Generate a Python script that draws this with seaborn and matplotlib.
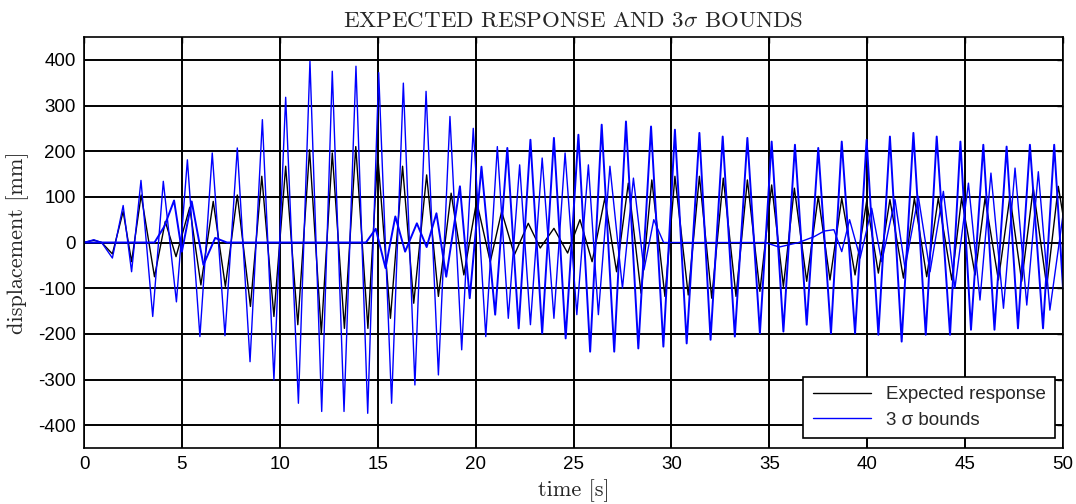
import matplotlib
matplotlib.use("Agg")
import matplotlib.pyplot as plt
import seaborn as sns
import pandas as pd

# Expected response (extrema of the mean displacement, mm)
mean_t = [0, 0.5, 0.9, 1.45, 2.0, 2.43, 2.92, 3.6, 4.15, 4.7, 5.4, 5.97, 6.6, 7.22,
          7.83, 8.5, 9.08, 9.7, 10.3, 10.92, 11.52, 12.12, 12.68, 13.3, 13.88, 14.5,
          15.0, 15.65, 16.27, 16.84, 17.5, 18.1, 18.75, 19.4, 20.05, 20.75, 21.33,
          21.98, 22.69, 23.3, 24.0, 24.7, 25.33, 25.95, 26.6, 27.2, 27.8, 28.45, 29.0,
          29.67, 30.18, 30.86, 31.43, 32.06, 32.65, 33.3, 33.88, 34.52, 35.12, 35.72,
          36.28, 36.91, 37.5, 38.1, 38.7, 39.38, 39.97, 40.57, 41.16, 41.85, 42.41,
          43.04, 43.63, 44.32, 44.82, 45.51, 46.02, 46.7, 47.29, 47.89, 48.48, 49.17,
          49.76, 50.0]
mean_v = [0, 5, 0, -25, 68, -42, 104, -75, 46, -31, 77, -93, 90, -96,
          104, -140, 145, -162, 167, -180, 203, -199, 196, -188, 210, -188,
          192, -166, 167, -133, 148, -118, 108, -71, 90, -42, 68,
          -27, 42, -12, 31, -23, 50, -42, 97, -64, 130, -111, 137,
          -118, 145, -115, 145, -122, 141, -118, 137, -107, 126, -96,
          119, -85, 101, -82, 97, -71, 90, -67, 94, -78, 97,
          -75, 97, -82, 97, -71, 97, -82, 101, -85, 119, -96,
          123, 60]

# First 3-sigma bound
bound_a_t = [0, 0.5, 0.9, 1.45, 2.0, 2.43, 2.91, 3.51, 4.05, 4.72, 5.28, 5.92, 6.55,
             7.2, 7.83, 8.48, 9.11, 9.7, 10.3, 10.95, 11.54, 12.14, 12.68, 13.28,
             13.89, 14.49, 15.05, 15.71, 16.31, 16.9, 17.47, 18.1, 18.69, 19.29,
             19.88, 20.52, 21.11, 21.67, 22.25, 22.8, 23.4, 24.0, 24.57, 25.17,
             25.76, 26.27, 26.86, 27.5, 28.06, 28.6, 29.1, 29.6, 34.8, 35.5, 36.5,
             37.3, 37.8, 38.3, 38.7, 39.1, 39.64, 40.23, 40.74, 41.42, 41.93, 42.61,
             43.21, 43.89, 44.48, 45.17, 45.76, 46.32, 46.96, 47.55, 48.15, 48.74,
             49.33, 50.0]
bound_a_v = [0, 6, 0, -34, 81, -64, 136, -162, 134, -130, 181, -206, 196,
             -204, 207, -261, 269, -301, 318, -352, 397, -370, 375, -370,
             386, -374, 372, -352, 349, -312, 331, -290, 276, -235,
             250, -206, 210, -166, 170, -180, 185, -166, 196, -158,
             170, -158, 167, -100, 141, -60, 50, 0, 0, -10, 0,
             13, 25, 28, -20, 50, -34, 75, -42, 94, -56, 101,
             -64, 112, -100, 130, -126, 152, -144, 163, -137, 155,
             -148, 60]

# Second 3-sigma bound
bound_b_t = [0, 3.6, 4.1, 4.6, 5.0, 5.5, 6.1, 6.7, 7.3, 14.4, 14.9, 15.4, 15.9, 16.4,
             17.0, 17.5, 18.0, 18.5, 19.2, 19.7, 20.3, 21.0, 21.62, 22.2, 22.8, 23.4,
             24.0, 24.6, 25.25, 25.85, 26.44, 27.08, 27.68, 28.31, 28.96, 29.59,
             30.18, 30.78, 31.43, 32.0, 32.62, 33.24, 33.88, 34.52, 35.12, 35.72,
             36.31, 36.91, 37.5, 38.15, 38.7, 39.38, 39.97, 40.57, 41.16, 41.76,
             42.36, 42.99, 43.55, 44.23, 44.76, 45.3, 45.93, 46.5, 47.12, 47.7,
             48.31, 48.98, 49.55, 50.0]
bound_b_v = [0, 0, 35, 92, -20, 90, -49, 10, 0, 0, 30, -56, 57, -20,
             42, -10, 64, -75, 123, -122, 166, -158, 207, -188, 225, -199,
             229, -210, 236, -239, 258, -239, 265, -232, 254, -228,
             247, -221, 240, -213, 232, -206, 229, -199, 221, -195,
             214, -180, 207, -199, 221, -199, 225, -202, 232, -217,
             240, -202, 232, -202, 221, -191, 214, -191, 210, -188,
             214, -188, 214, -100]

x_ticks = list(range(0, 51, 5))
y_ticks = list(range(-400, 401, 100))

sns.set_style("white")
plt.rcParams["font.family"] = ["Liberation Sans", "DejaVu Sans"]
plt.rcParams["mathtext.fontset"] = "cm"
plt.rcParams["axes.unicode_minus"] = False

W, H = 1076, 504
fig = plt.figure(figsize=(W / 100, H / 100), dpi=100)
ax = fig.add_axes([84 / W, 1 - 448 / H, (1063 - 84) / W, (448 - 37) / H])

mean_df = pd.DataFrame({"t": mean_t, "v": mean_v})
a_df = pd.DataFrame({"t": bound_a_t, "v": bound_a_v})
b_df = pd.DataFrame({"t": bound_b_t, "v": bound_b_v})

sns.lineplot(data=mean_df, x="t", y="v", color="black", lw=1.2, ax=ax, sort=False,
             label="Expected response")
sns.lineplot(data=a_df, x="t", y="v", color="#0000ff", lw=1.4, ax=ax, sort=False,
             label="3 \u03c3 bounds")
sns.lineplot(data=b_df, x="t", y="v", color="#0000ff", lw=1.4, ax=ax, sort=False)

ax.set_xlim(0, 50)
ax.set_ylim(-450, 450)
ax.set_xticks(x_ticks)
ax.set_yticks(y_ticks)
ax.grid(True, color="black", lw=1.4)
ax.set_axisbelow(True)
ax.tick_params(direction="in", top=True, right=True, length=4, width=1,
               labelsize=13.5, colors="black", pad=6)
for s in ax.spines.values():
    s.set_color("black")
    s.set_linewidth(1.2)

serif = "cmr10"
ax.set_title(r"EXPECTED RESPONSE AND $3\sigma$ BOUNDS", fontfamily=serif,
             fontsize=16.5, pad=7)
ax.set_xlabel("time [s]", fontfamily=serif, fontsize=16, labelpad=4)
ax.set_ylabel("displacement [mm]", fontfamily=serif, fontsize=16, labelpad=6)

handles, labels = ax.get_legend_handles_labels()
for h in handles:
    h.set_linewidth(1.0)
leg = ax.legend(handles[:2], labels[:2], loc="lower right",
                bbox_to_anchor=(0.992, 0.024), borderaxespad=0, fontsize=13.5,
                frameon=True, fancybox=False, handlelength=3.1,
                labelspacing=0.45, borderpad=0.5)
leg.get_frame().set_edgecolor("black")
leg.get_frame().set_linewidth(1.2)
leg.get_frame().set_alpha(1.0)

fig.savefig("out.png", dpi=100)
